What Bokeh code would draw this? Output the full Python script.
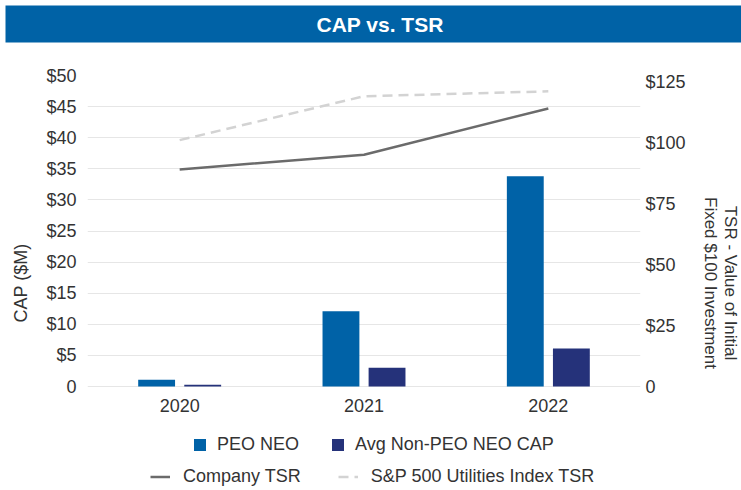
from bokeh.plotting import figure
from bokeh.models import (ColumnDataSource, FactorRange, Range1d, LinearAxis, Legend,
                          LegendItem, FixedTicker, Title)
from bokeh.core.properties import value
from bokeh.transform import dodge
from bokeh.embed import file_html
from bokeh.resources import INLINE

years = ["2020", "2021", "2022"]
peo_cap = [1.1, 12.1, 33.8]
non_peo_cap = [0.3, 3.0, 6.1]
company_tsr = [89, 95, 114]
sp_utilities_tsr = [101, 119, 121]

left_ticks = [0, 5, 10, 15, 20, 25, 30, 35, 40, 45, 50]
left_labels = ["0", "$5", "$10", "$15", "$20", "$25", "$30", "$35", "$40", "$45", "$50"]
right_ticks = [0, 25, 50, 75, 100, 125]
right_labels = ["0", "$25", "$50", "$75", "$100", "$125"]

FONT = "Liberation Sans"
TXT = "#333333"

# plot-area geometry (pixels): data area 311 px tall, legend strip below it
DATA_H = 311
FRAME_H = 415
CAP_MAX = 50
TSR_MAX = 127.5
cap_min = -CAP_MAX * (FRAME_H - DATA_H) / DATA_H
tsr_min = -TSR_MAX * (FRAME_H - DATA_H) / DATA_H

src = ColumnDataSource(dict(year=years, peo=peo_cap, nonpeo=non_peo_cap,
                            comp=company_tsr, sp=sp_utilities_tsr,
                            base=[0] * len(years)))

p = figure(frame_width=553, frame_height=FRAME_H,
           x_range=FactorRange(factors=years, range_padding=0),
           y_range=Range1d(cap_min, CAP_MAX), output_backend="svg", toolbar_location=None,
           min_border_left=87, min_border_right=101, min_border_top=75,
           min_border_bottom=0, title=None)
p.outline_line_color = None
p.background_fill_color = "#ffffff"
p.border_fill_color = "#ffffff"
p.extra_y_ranges = {"tsr": Range1d(tsr_min, TSR_MAX)}

spacer = Title(text=" ", text_font=FONT, text_font_size="28px", standoff=0)
p.add_layout(spacer, "above")
title = Title(text="CAP vs. TSR", align="left", offset=-82, text_font=FONT,
              text_font_size="21px", text_font_style="bold", text_color="#ffffff",
              background_fill_color="#0062a6",
              padding=dict(left=311, right=420, top=7, bottom=7), standoff=0)
p.add_layout(title, "above")

b1 = p.vbar(x=dodge("year", -0.125, range=p.x_range), top="peo", width=0.2, source=src,
            fill_color="#0062a7", line_color=None)
b2 = p.vbar(x=dodge("year", 0.125, range=p.x_range), top="nonpeo", width=0.2, source=src,
            fill_color="#25327a", line_color=None)
l1 = p.line(x="year", y="comp", source=src, y_range_name="tsr", line_color="#6b6b6b",
            line_width=2.5)
l2 = p.line(x="year", y="sp", source=src, y_range_name="tsr", line_color="#d3d3d3",
            line_width=2.5, line_dash="10 6")

# category labels under the baseline
p.text(x="year", y="base", text="year", source=src, y_offset=19,
       text_align="center", text_baseline="middle", text_font=value(FONT),
       text_font_size="18px", text_color=TXT)


def style_axis(ax, label_size="18px"):
    ax.axis_line_color = None
    ax.major_tick_line_color = None
    ax.minor_tick_line_color = None
    ax.major_tick_out = 0
    ax.major_tick_in = 0
    ax.minor_tick_out = 0
    ax.minor_tick_in = 0
    ax.major_label_text_font = FONT
    ax.major_label_text_font_size = "18px"
    ax.major_label_text_color = TXT
    ax.axis_label_text_font = FONT
    ax.axis_label_text_font_size = label_size
    ax.axis_label_text_font_style = "normal"
    ax.axis_label_text_color = TXT


ya = p.yaxis[0]
ya.ticker = FixedTicker(ticks=left_ticks)
ya.major_label_overrides = {t: s for t, s in zip(left_ticks, left_labels)}
ya.axis_label = "CAP ($M)"
ya.bounds = (0, CAP_MAX)
style_axis(ya)
ya.major_label_standoff = 11
ya.axis_label_standoff = 12

ra = LinearAxis(y_range_name="tsr", ticker=FixedTicker(ticks=right_ticks),
                major_label_overrides={t: s for t, s in zip(right_ticks, right_labels)},
                axis_label="TSR - Value of Initial\nFixed $100 Investment",
                bounds=(0, TSR_MAX))
style_axis(ra, "17px")
ra.axis_label_text_line_height = 1.1
ra.major_label_standoff = 5
ra.axis_label_standoff = 12
p.add_layout(ra, "right")

p.xaxis.visible = False
p.xgrid.grid_line_color = None
p.ygrid.grid_line_color = "#e6e6e6"
p.ygrid.grid_line_width = 1

leg1 = Legend(items=[LegendItem(label="PEO NEO", renderers=[b1]),
                     LegendItem(label="Avg Non-PEO NEO CAP", renderers=[b2])],
              orientation="horizontal", location=(105, 35),
              glyph_width=15, glyph_height=15, label_standoff=10, spacing=31,
              padding=0, margin=0, border_line_color=None, background_fill_alpha=0,
              label_text_font=FONT, label_text_font_size="18px", label_text_color=TXT)
leg2 = Legend(items=[LegendItem(label="Company TSR", renderers=[l1]),
                     LegendItem(label="S&P 500 Utilities Index TSR", renderers=[l2])],
              orientation="horizontal", location=(63, 3),
              glyph_width=20, glyph_height=15, label_standoff=13, spacing=37,
              padding=0, margin=0, border_line_color=None, background_fill_alpha=0,
              label_text_font=FONT, label_text_font_size="18px", label_text_color=TXT)
p.add_layout(leg1)
p.add_layout(leg2)

open("out.html", "w").write(file_html(p, INLINE))
